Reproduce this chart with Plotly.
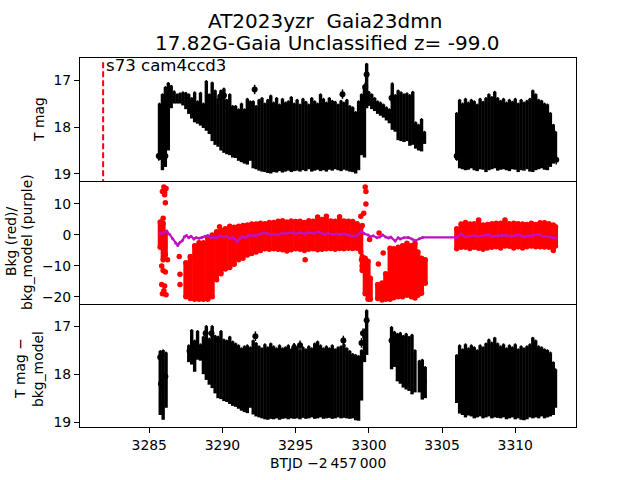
import plotly.graph_objects as go
from plotly.subplots import make_subplots
import numpy as np

# ---- T mag panel: vertical extent of the dense light curve, read per time bin
t_main = [3285.7,3285.9,3286.1,3286.3,3286.5,3286.7,3286.9,3287.1,3287.3,3287.5,3287.7,3287.9,3288.1,3288.3,3288.5,3288.7,3288.9,3289.1,3289.3,3289.5,
3289.7,3289.9,3290.1,3290.3,3290.5,3290.7,3290.9,3291.1,3291.3,3291.5,3291.7,3291.9,3292.1,3292.3,3292.5,3292.7,3292.9,3293.1,3293.3,3293.5,
3293.7,3293.9,3294.1,3294.3,3294.5,3294.7,3294.9,3295.1,3295.3,3295.5,3295.7,3295.9,3296.1,3296.3,3296.5,3296.7,3296.9,3297.1,3297.3,3297.5,
3297.7,3297.9,3298.1,3298.3,3298.5,3298.7,3298.9,3299.1,3299.3,3299.5,3299.7,3299.85,3300.0,3300.2,3300.4,3300.6,3300.8,3301.0,3301.2,3301.4,
3301.6,3301.8,3302.0,3302.2,3302.4,3302.6,3302.8,3303.0,3303.2,3303.4,3303.6,3303.8]
top_hi = [17.50,17.30,17.15,17.06,17.12,17.24,17.30,17.28,17.26,17.27,17.30,17.38,17.26,17.45,17.27,17.50,17.02,17.30,17.05,17.22,
17.40,17.22,17.18,17.42,17.30,17.55,17.55,17.62,17.50,17.62,17.40,17.45,17.45,17.55,17.42,17.38,17.50,17.42,17.33,17.48,
17.38,17.52,17.40,17.48,17.45,17.36,17.50,17.42,17.52,17.40,17.46,17.52,17.38,17.45,17.50,17.30,17.40,17.48,17.38,17.44,
17.46,17.52,17.44,17.48,17.42,17.55,17.58,17.68,17.45,17.30,17.12,16.65,17.25,17.30,17.38,17.45,17.48,17.52,17.58,17.62,
17.07,17.32,17.22,17.26,17.30,17.28,17.32,17.25,17.90,17.95,17.83,18.10]
top_lo = [18.70,18.92,18.85,18.50,17.60,17.50,17.50,17.50,17.54,17.62,17.72,17.82,17.90,17.93,17.97,18.02,18.08,18.15,18.30,18.38,
18.42,18.50,18.55,18.58,18.60,18.65,18.66,18.72,18.75,18.78,18.80,18.72,18.88,18.90,18.93,18.95,18.96,18.98,18.99,18.96,
18.97,18.94,18.97,18.95,18.93,18.96,18.94,18.93,18.95,18.92,18.94,18.90,18.95,18.93,18.91,18.94,18.92,18.95,18.91,18.93,
18.90,18.92,18.94,18.91,18.93,18.95,18.96,18.99,18.92,18.60,18.65,17.60,17.55,17.62,17.66,17.72,17.76,17.80,17.86,17.92,
18.06,18.10,18.28,18.30,18.32,18.30,18.40,18.38,18.46,18.50,18.52,18.36]
t_last = [3306.0,3306.2,3306.4,3306.6,3306.8,3307.0,3307.2,3307.4,3307.6,3307.8,3308.0,3308.2,3308.4,3308.6,3308.8,3309.0,3309.2,3309.4,
3309.6,3309.8,3310.0,3310.2,3310.4,3310.6,3310.8,3311.0,3311.2,3311.4,3311.6,3311.8,3312.0,3312.2,3312.4,3312.6,3312.75]
top_last_hi = [17.70,17.42,17.50,17.40,17.48,17.42,17.45,17.52,17.40,17.46,17.38,17.30,17.36,17.25,17.38,17.44,17.40,17.48,
17.42,17.46,17.40,17.50,17.42,17.48,17.44,17.40,17.22,17.30,17.42,17.44,17.50,17.52,17.70,17.95,18.10]
top_last_lo = [18.70,18.88,18.90,18.92,18.91,18.88,18.92,18.94,18.90,18.91,18.96,18.92,18.90,18.88,18.93,18.91,18.90,18.92,
18.94,18.90,18.91,18.96,18.92,18.93,18.90,18.95,18.96,18.92,18.90,18.88,18.91,18.92,18.85,18.78,18.70]
top_pt_t = [3285.65,3286.1,3289.85,3290.1,3292.2,3298.2,3299.75,3299.85,3301.55,3306.0,3312.8]
top_pt_m = [18.62,18.62,17.35,17.33,17.20,17.30,17.15,16.88,17.38,18.62,18.70]

# ---- Detrended panel
t_d1 = [3285.75,3285.95,3286.15,3287.7,3287.9,3288.1,3288.3,3288.5,3288.7,3288.9,3289.1,3289.3,3289.5,3289.7,3289.9,3290.1,3290.3,3290.5,3290.7,3290.9,
3291.1,3291.3,3291.5,3291.7,3291.9,3292.1,3292.3,3292.5,3292.7,3292.9,3293.1,3293.3,3293.5,3293.7,3293.9,3294.1,3294.3,3294.5,3294.7,3294.9,
3295.1,3295.3,3295.5,3295.7,3295.9,3296.1,3296.3,3296.5,3296.7,3296.9,3297.1,3297.3,3297.5,3297.7,3297.9,3298.1,3298.3,3298.5,3298.7,3298.9,
3299.1,3299.3,3299.5,3299.7,3299.85]
det_hi = [17.52,17.50,17.55,17.40,17.08,17.30,17.10,17.38,17.22,17.00,17.26,17.00,17.20,17.22,17.10,17.28,17.30,17.22,17.32,17.36,
17.40,17.46,17.42,17.40,17.44,17.30,17.35,17.42,17.46,17.38,17.44,17.36,17.42,17.46,17.40,17.46,17.44,17.40,17.48,17.38,
17.44,17.50,17.44,17.48,17.42,17.46,17.36,17.32,17.40,17.46,17.42,17.46,17.40,17.48,17.44,17.42,17.38,17.46,17.52,17.58,
17.60,17.62,17.50,17.20,16.67]
det_lo = [18.85,18.95,18.70,17.75,17.80,17.95,17.70,17.72,18.00,18.12,18.22,18.29,18.40,18.50,18.52,18.56,18.58,18.62,18.66,18.68,
18.72,18.76,18.79,18.81,18.70,18.84,18.88,18.90,18.92,18.94,18.95,18.93,18.94,18.92,18.95,18.93,18.92,18.94,18.92,18.93,
18.92,18.94,18.91,18.93,18.92,18.90,18.93,18.92,18.90,18.93,18.92,18.91,18.93,18.92,18.90,18.92,18.91,18.92,18.93,18.92,
18.96,18.97,18.55,17.75,17.60]
t_d2 = [3301.55,3301.75,3301.95,3302.15,3302.35,3302.55,3302.75,3302.95,3303.15,3303.45,3303.65,3303.85]
det2_hi = [17.02,17.12,17.16,17.14,17.20,17.16,17.22,17.18,17.50,17.72,17.70,17.85]
det2_lo = [17.90,17.85,18.15,18.20,18.28,18.32,18.35,18.42,18.38,18.38,18.53,18.50]
det_last_hi = [17.60,17.40,17.48,17.38,17.46,17.40,17.44,17.50,17.40,17.44,17.36,17.28,17.34,17.24,17.36,17.42,17.38,17.46,
17.40,17.44,17.38,17.48,17.42,17.46,17.42,17.38,17.24,17.30,17.42,17.44,17.48,17.50,17.55,17.75,17.90]
det_last_lo = [18.60,18.82,18.85,18.90,18.86,18.88,18.92,18.90,18.88,18.92,18.90,18.88,18.92,18.90,18.91,18.92,18.90,18.94,
18.92,18.90,18.94,18.92,18.95,18.96,18.94,18.90,18.92,18.90,18.92,18.88,18.92,18.90,18.88,18.85,18.70]
det_pt_t = [3285.75,3285.8,3286.1,3287.75,3288.1,3288.85,3289.25,3289.7,3292.25,3294.9,3295.3,3298.26,3299.5,3299.6,3299.7,3299.85,3301.55,3303.75]
det_pt_m = [17.65,18.20,18.05,17.52,17.62,17.15,17.15,17.30,17.21,17.45,17.40,17.30,17.35,17.15,17.15,16.88,17.30,18.15]

# ---- Background panel (red) and background model (purple)
t_bk0 = [3285.75,3285.95,3286.1]
bk0_top = [4.2,3.8,0.5]
bk0_bot = [-4.0,-8.0,-6.5]
t_bk1 = [3287.5,3287.8,3288.1,3288.4,3288.7,3289.0,3289.3,3289.6,3289.9,3290.2,3290.5,3290.8,3291.1,3291.4,3291.7,3292.0,3292.3,3292.6,3292.9,3293.2,
3293.5,3293.8,3294.1,3294.4,3294.7,3295.0,3295.3,3295.6,3295.9,3296.2,3296.5,3296.8,3297.1,3297.4,3297.7,3298.0,3298.3,3298.6,3298.9,3299.2,3299.45]
bk1_top = [-9.0,-7.0,-3.5,-2.5,-2.5,-1.0,0.0,1.0,1.5,2.0,2.8,2.5,2.8,3.0,3.2,3.5,3.5,3.8,3.6,4.0,
4.0,4.4,4.6,4.2,4.5,4.3,4.4,4.0,4.6,4.4,5.8,5.0,6.0,4.5,4.4,5.9,4.5,4.4,4.3,3.6,2.5]
bk1_bot = [-20.0,-20.5,-20.8,-20.8,-20.8,-20.8,-20.0,-14.5,-12.5,-11.0,-10.5,-9.5,-8.0,-7.5,-6.5,-6.0,-5.5,-5.0,-4.5,-4.6,
-4.5,-4.6,-4.8,-5.2,-4.8,-4.5,-4.6,-5.0,-4.6,-4.5,-4.8,-4.6,-4.5,-4.4,-4.6,-4.4,-4.5,-4.3,-4.4,-4.3,-5.5]
t_bk15 = [3299.55,3299.75,3299.95,3300.1]
bk15_top = [-7.0,-7.5,-8.5,-14.0]
bk15_bot = [-11.5,-19.0,-20.8,-20.8]
t_bk2 = [3300.6,3300.9,3301.15,3301.45,3301.7,3302.0,3302.3,3302.6,3302.9,3303.15,3303.35,3303.6,3303.85]
bk2_top = [-16.0,-15.5,-12.5,-4.3,-4.5,-4.0,-3.5,-2.7,-3.5,-2.7,-5.5,-7.5,-8.0]
bk2_bot = [-20.5,-21.0,-20.8,-20.8,-20.3,-20.0,-20.0,-19.5,-20.0,-20.4,-19.5,-18.8,-15.6]
t_bk3 = [3306.0,3306.3,3306.6,3306.9,3307.2,3307.5,3307.8,3308.1,3308.4,3308.7,3309.0,3309.3,3309.6,3309.9,3310.2,3310.5,3310.8,3311.1,3311.4,3311.7,3312.0,3312.3,3312.6,3312.75]
bk3_top = [2.0,3.5,4.0,3.5,3.6,4.8,3.2,3.4,3.6,3.8,3.8,4.8,3.6,3.8,3.6,3.5,3.4,3.8,3.4,3.9,3.9,3.6,3.2,2.6]
bk3_bot = [-4.5,-4.0,-4.0,-4.4,-4.0,-4.3,-4.6,-4.2,-4.0,-3.8,-4.2,-3.6,-3.7,-4.2,-3.8,-4.2,-3.8,-3.6,-3.8,-3.8,-3.9,-4.0,-5.0,-3.6]
bk_pt_t = [3285.95,3286.0,3285.9,3286.05,3286.15,3286.0,3286.05,3286.1,3285.85,3285.95,3286.1,3286.25,3285.85,3286.0,3285.9,3286.05,3286.15,
3287.05,3287.1,3287.1,3289.8,3295.65,3299.45,3299.55,3299.75,3299.8,3299.8,3299.5,3299.55,3299.65,3300.05,3300.7,3300.98,3300.65]
bk_pt_v = [5.4,15.5,14.0,13.8,15.0,14.2,13.0,10.4,-10.0,-11.5,-12.0,-8.0,-16.0,-18.0,-19.0,-16.5,-19.3,
-7.0,-12.7,-16.0,2.6,-8.0,6.0,3.0,15.5,14.0,10.0,-8.0,-10.0,7.0,-1.5,0.6,-5.8,-9.4]
t_model = [3285.73,3285.95,3286.2,3286.4,3286.6,3286.8,3286.95,3287.1,3287.25,3287.4,3287.55,3287.7,3287.85,3288.05,3288.2,3288.4,3288.6,3288.8,3289.0,3289.2,
3289.4,3289.6,3289.85,3290.06,3290.3,3290.5,3290.7,3290.9,3291.02,3291.2,3291.35,3291.6,3291.8,3292.05,3292.3,3292.55,3292.8,3293.05,3293.3,3293.55,
3293.8,3294.1,3294.4,3294.7,3295.0,3295.3,3295.6,3295.9,3296.2,3296.55,3296.8,3297.0,3297.2,3297.5,3297.8,3298.05,3298.3,3298.6,3298.9,3299.2,
3299.5,3299.7,3299.95,3300.1,3300.3,3300.55,3300.75,3300.95,3301.15,3301.35,3301.5,3301.8,3302.0,3302.15,3302.4,3302.7,3302.95,3303.2,3303.45,3303.68,
3306.0,3306.3,3306.55,3306.85,3307.2,3307.5,3307.85,3308.2,3308.5,3308.8,3309.1,3309.4,3309.7,3310.0,3310.3,3310.6,3310.9,3311.2,3311.6,3311.9,3312.2,3312.5,3312.75]
bkg_model = [0.4,0.6,1.3,0.1,-1.2,-2.6,-3.4,-2.4,-1.9,-0.6,-0.2,-0.9,-0.4,-1.3,-0.9,-1.1,-0.8,-0.4,-0.2,-0.8,
-0.7,-0.9,-0.3,-0.6,-0.4,-1.1,-0.8,-1.6,-2.2,-1.1,-0.6,-0.9,-0.1,-0.2,-0.3,0.3,0.6,0.6,0.0,0.2,
0.0,0.6,0.5,0.7,0.4,0.7,0.4,0.7,0.5,1.0,0.5,0.2,0.6,0.2,0.3,0.1,0.4,-0.1,-0.4,-0.2,
1.1,0.4,0.0,-0.6,-0.3,-0.9,-0.7,0.0,-0.7,-1.0,-0.7,-2.0,-0.9,-1.3,-0.9,-0.8,-1.3,-1.9,-1.2,-0.8,
-0.8,0.3,-0.6,-0.5,-0.2,-0.5,-0.1,0.0,-0.5,-0.3,-0.2,-0.1,-0.5,-0.2,0.0,-0.7,-0.3,-0.2,0.2,-0.4,-0.5,-0.8,-1.0]

# ---- Texts, ticks, markers
title_l1 = "AT2023yzr\u00a0\u00a0Gaia23dmn"
title_l2 = "17.82G-Gaia Unclassified z= -99.0"
sector_label = "s73 cam4ccd3"
x_label = "BTJD \u22122\u2009457\u2009000"
sector_t = [3281.85, 3281.85]
sector_y = [16.62, 19.15]
x_ticks = [3285, 3290, 3295, 3300, 3305, 3310]
mag_ticks = [17, 18, 19]
bkg_ticks = [10, 0, -10, -20]

FONT = "DejaVu Sans"
FS = 13.9
fig = make_subplots(rows=3, cols=1, shared_xaxes=True, vertical_spacing=0)

def bars(t, hi, lo, row, color="black", w=3.4, ms=2):
    hi, lo = np.array(hi), np.array(lo)
    fig.add_trace(go.Scatter(x=t, y=hi, mode="markers", marker=dict(size=ms, color=color),
        error_y=dict(type="data", symmetric=False, array=lo-hi, arrayminus=[0]*len(hi),
                     color=color, thickness=w, width=0)), row=row, col=1)

# top
bars(t_main, top_hi, top_lo, 1)
bars(t_last, top_last_hi, top_last_lo, 1)
fig.add_trace(go.Scatter(x=top_pt_t, y=top_pt_m, mode="markers", marker=dict(size=6, color="black"),
    error_y=dict(type="constant", value=0.1, color="black", thickness=1.5, width=0)), row=1, col=1)
fig.add_trace(go.Scatter(x=sector_t, y=sector_y, mode="lines", line=dict(color="red", width=2, dash="6px,3px")), row=1, col=1)

# middle
for t, h, l in [(t_bk0, bk0_top, bk0_bot), (t_bk1, bk1_top, bk1_bot), (t_bk15, bk15_top, bk15_bot),
                (t_bk2, bk2_top, bk2_bot), (t_bk3, bk3_top, bk3_bot)]:
    bars(t, h, l, 2, color="red", w=5, ms=5.5)
    fig.add_trace(go.Scatter(x=t, y=l, mode="markers", marker=dict(size=5.5, color="red")), row=2, col=1)
fig.add_trace(go.Scatter(x=bk_pt_t, y=bk_pt_v, mode="markers", marker=dict(size=5.5, color="red")), row=2, col=1)
fig.add_trace(go.Scatter(x=t_model, y=bkg_model, mode="lines+markers", line=dict(color="#bf10c4", width=2.2),
                         marker=dict(size=3, color="#bf10c4")), row=2, col=1)

# bottom
bars(t_d1, det_hi, det_lo, 3)
bars(t_d2, det2_hi, det2_lo, 3)
bars(t_last, det_last_hi, det_last_lo, 3)
fig.add_trace(go.Scatter(x=det_pt_t, y=det_pt_m, mode="markers", marker=dict(size=6, color="black"),
    error_y=dict(type="constant", value=0.1, color="black", thickness=1.5, width=0)), row=3, col=1)

axis = dict(showline=True, linecolor="black", linewidth=1, showgrid=False, zeroline=False,
            tickfont=dict(family=FONT, size=FS, color="black"), ticklen=5, tickwidth=1, tickcolor="black", ticks="outside")
xr = [3280.27, 3314.15]
for r in (1, 2, 3):
    fig.update_xaxes(range=xr, tickvals=x_ticks, ticktext=[str(v) for v in x_ticks], mirror=(r == 1), **axis, row=r, col=1)
fig.update_xaxes(showticklabels=False, ticks="", row=1, col=1)
fig.update_xaxes(showticklabels=False, ticks="", row=2, col=1)
fig.update_yaxes(range=[19.15, 16.53], tickvals=mag_ticks, mirror=True, **axis, row=1, col=1)
fig.update_yaxes(range=[-22.3, 17.4], tickvals=bkg_ticks, mirror=True, **axis, row=2, col=1)
fig.update_yaxes(range=[19.1, 16.54], tickvals=mag_ticks, mirror=True, **axis, row=3, col=1)

L, T, W, H = 80, 58, 496, 369   # page pixels of the plot block
def put(text, X, Y, size=FS, angle=0, xanchor="center"):
    fig.add_annotation(xref="paper", yref="paper", x=(X - L) / W, y=(T + H - Y) / H, text=text, showarrow=False,
                       textangle=angle, xanchor=xanchor, yanchor="middle", borderpad=0,
                       font=dict(family=FONT, size=size, color="black"))
put(title_l1, 325, 21, size=20)
put(title_l2, 327, 43, size=20)
put(sector_label, 105, 65, size=16.6, xanchor="left")
put(x_label, 328, 463)
put("T mag", 39, 120, angle=-90)
put("Bkg (red)/", 11, 242, angle=-90)
put("bkg_model (purple)", 27, 242, angle=-90)
put("T mag \u2212", 20, 369, angle=-90)
put("bkg_model", 38, 369, angle=-90)

fig.update_layout(width=640, height=480, showlegend=False, plot_bgcolor="white", paper_bgcolor="white",
                  margin=dict(l=80, r=64, t=58, b=53), hovermode=False, font=dict(family=FONT))
fig.write_html("out.html", config=dict(displayModeBar=False), post_script="document.body.style.margin='0';")
